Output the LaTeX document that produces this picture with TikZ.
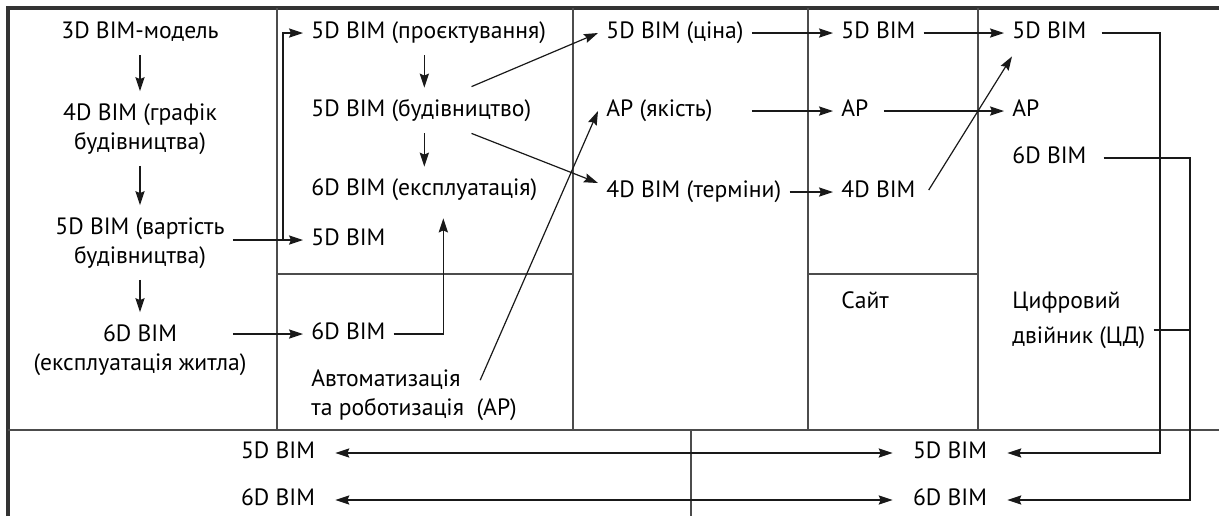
\documentclass[tikz,border=0pt]{standalone}
\usepackage{fontspec}
\setmainfont{PT Sans}
\usetikzlibrary{arrows.meta,calc}

\begin{document}
\begin{tikzpicture}
[x=0.5pt, y=-0.5pt,
 lbl/.style={anchor=west, inner xsep=4pt, inner ysep=3pt, text height=8.4pt, text depth=2.6pt, font=\fontsize{11.8}{14.5}\selectfont},
 blk/.style={inner xsep=4pt, inner ysep=3pt, font=\fontsize{11.8}{14.5}\selectfont},
 bot/.style={inner xsep=10pt, inner ysep=3pt, text height=8.4pt, text depth=2.6pt, font=\fontsize{11.8}{14.5}\selectfont},
 rim/.style={line width=1.6pt, draw=black!80},
 rule/.style={line width=0.9pt, draw=black!70},
 link/.style={line width=0.6pt, draw=black!90},
 arr/.style={link, -{Stealth[length=7pt, width=4.6pt, inset=1pt]}},
 both/.style={link, {Stealth[length=7pt, width=4.6pt, inset=1pt]}-{Stealth[length=7pt, width=4.6pt, inset=1pt]}},
 down/.style={arr, shorten <=2.5pt, shorten >=3pt}]

\useasboundingbox (0, 0) rectangle (1219, 516);

\draw [rim] (8, 516) -- (8, 8) -- (1219, 8);
\draw [rule] (8, 430) -- (1219, 430);
\draw [rule] (277, 8) -- (277, 430);
\draw [rule] (573, 8) -- (573, 430);
\draw [rule] (808, 8) -- (808, 430);
\draw [rule] (978, 8) -- (978, 430);
\draw [rule] (277, 274) -- (573, 274);
\draw [rule] (808, 274) -- (978, 274);
\draw [rule] (691, 430) -- (691, 516);

\node (m3d) at (140, 33) [blk, text height=8.4pt, text depth=2.6pt] {3D BIM-модель};
\node (g4d) at (140, 129) [blk, align=center] {4D BIM (графік\\будівництва)};
\node (v5d) at (140, 243) [blk, align=center] {5D BIM (вартість\\будівництва)};
\node (e6d) at (140, 350) [blk, align=center] {6D BIM\\(експлуатація житла)};

\node (pro) at (303, 33) [lbl] {5D BIM (проєктування)};
\node (bud) at (303, 111) [lbl] {5D BIM (будівництво)};
\node (ekp) at (303, 190) [lbl] {6D BIM (експлуатація)};
\node (m5) at (303, 240) [lbl] {5D BIM};
\node (m6) at (303, 334) [lbl] {6D BIM};
\node (avt) at (303, 395) [blk, anchor=west, align=left] {Автоматизація\\та роботизація~~(АР)};

\node (cina) at (598, 33) [lbl] {5D BIM (ціна)};
\node (yak) at (598, 111) [lbl] {АР (якість)};
\node (term) at (598, 192) [lbl] {4D BIM (терміни)};

\node (c5) at (833, 33) [lbl] {5D BIM};
\node (cap) at (833, 111) [lbl] {АР};
\node (c4) at (833, 192) [lbl] {4D BIM};
\node (sait) at (833, 303) [lbl] {Сайт};

\node (d5) at (1004, 33) [lbl] {5D BIM};
\node (dap) at (1004, 111) [lbl] {АР};
\node (d6) at (1004, 158) [lbl] {6D BIM};
\node (cd) at (1004, 320) [blk, anchor=west, align=left, font=\fontsize{11.8}{17.5}\selectfont] {Цифровий\\двійник (ЦД)};

\node (b5l) at (278, 453) [bot] {5D BIM};
\node (b6l) at (278, 500) [bot] {6D BIM};
\node (b5r) at (950, 453) [bot] {5D BIM};
\node (b6r) at (950, 500) [bot] {6D BIM};

\coordinate (rail5) at (1160, 0);
\coordinate (rail6) at (1190, 0);

\draw [down] (m3d) -- (g4d);
\draw [down] (g4d) -- (v5d);
\draw [down] (v5d) -- (e6d);
\draw [down] (pro.south -| ekp) -- (bud.north -| ekp);
\draw [down] (bud.south -| ekp) -- (ekp.north);
\draw [arr] (v5d.east |- m5) -- (m5.west);
\draw [arr] ($(m5.west)+(-20,0)$) |- (pro.west);
\draw [arr] (v5d.east |- m6) -- (m6.west);
\draw [arr] (m6.east) -| ($(ekp.south)+(19,11)$);
\draw [arr] ($(bud.north east)+(-68,-7)$) -- (cina.west);
\draw [arr] ($(bud.south east)+(-68,5)$) -- ($(term.west)+(0,-9)$);
\draw [arr] ($(avt.north east)+(-45,17)$) -- (yak.west);
\draw [arr] (cina.east) -- (c5.west);
\draw [arr] (cina.east |- yak) -- (cap.west);
\draw [arr] (term.east) -- (c4.west);
\draw [arr] (c5.east) -- (d5.west);
\draw [arr] ($(cap.east)+(7,0)$) -- (dap.west);
\draw [arr] ($(c4.east)+(5,-2)$) -- ($(d5.south west)+(8,6)$);
\draw [arr] ($(d5.east)+(7,0)$) -| (rail5 |- b5r) -- (b5r.east);
\draw [arr] ($(d6.east)+(9,0)$) -| (rail6 |- b6r) -- (b6r.east);
\draw [link] ($(cd.east)+(0,10)$) coordinate (cdout) -- (cdout -| rail6);
\draw [both] (b5l) -- (b5r);
\draw [both] (b6l) -- (b6r);
\end{tikzpicture}
\end{document}
